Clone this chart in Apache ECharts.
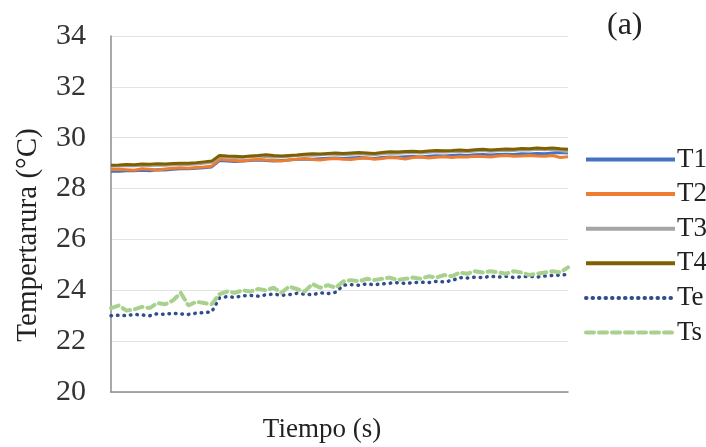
<!DOCTYPE html>
<html>
<head>
<meta charset="utf-8">
<script src="https://cdn.jsdelivr.net/npm/echarts@6/dist/echarts.min.js"></script>
<style>
  html, body { margin: 0; padding: 0; background: #fff; }
  #chart { width: 706px; height: 447px; }
</style>
</head>
<body>
<div id="chart"></div>
<script>
// Temperature readings per sample (°C)
const samples = Array.from({ length: 60 }, (_, i) => String(i + 1));

const t1 = [28.68, 28.68, 28.7, 28.7, 28.72, 28.7, 28.74, 28.73, 28.76, 28.78, 28.78, 28.8, 28.82, 28.85,
  29.1, 29.08, 29.06, 29.08, 29.1, 29.12, 29.1, 29.08, 29.1, 29.12, 29.15, 29.16, 29.15, 29.17, 29.19, 29.2,
  29.18, 29.2, 29.22, 29.2, 29.18, 29.22, 29.24, 29.23, 29.25, 29.26, 29.24, 29.27, 29.29, 29.28, 29.3,
  29.32, 29.3, 29.33, 29.34, 29.32, 29.34, 29.35, 29.34, 29.37, 29.36, 29.38, 29.37, 29.4, 29.42, 29.4];

const t2 = [28.75, 28.76, 28.74, 28.72, 28.78, 28.76, 28.73, 28.77, 28.8, 28.82, 28.8, 28.83, 28.85, 28.88,
  29.15, 29.12, 29.1, 29.08, 29.12, 29.15, 29.12, 29.1, 29.08, 29.13, 29.15, 29.18, 29.14, 29.12, 29.16, 29.18,
  29.15, 29.14, 29.18, 29.2, 29.15, 29.18, 29.22, 29.2, 29.16, 29.22, 29.24, 29.2, 29.23, 29.25, 29.22,
  29.25, 29.24, 29.27, 29.26, 29.24, 29.28, 29.3, 29.27, 29.28, 29.3, 29.28, 29.27, 29.3, 29.22, 29.25];

const t3 = [28.88, 28.89, 28.9, 28.9, 28.92, 28.91, 28.93, 28.92, 28.94, 28.95, 28.95, 28.97, 29.0, 29.03,
  29.25, 29.23, 29.22, 29.23, 29.25, 29.28, 29.25, 29.23, 29.25, 29.27, 29.3, 29.32, 29.31, 29.33, 29.35, 29.35,
  29.33, 29.35, 29.37, 29.35, 29.33, 29.37, 29.4, 29.39, 29.41, 29.42, 29.4, 29.43, 29.45, 29.44, 29.45,
  29.47, 29.45, 29.48, 29.5, 29.47, 29.49, 29.51, 29.5, 29.53, 29.52, 29.55, 29.53, 29.55, 29.5, 29.45];

const t4 = [28.92, 28.93, 28.95, 28.94, 28.97, 28.96, 28.98, 28.97, 28.99, 29.0, 29.0, 29.02, 29.05, 29.08,
  29.3, 29.28, 29.27, 29.25, 29.28, 29.3, 29.33, 29.3, 29.28, 29.3, 29.32, 29.35, 29.37, 29.36, 29.38, 29.4,
  29.38, 29.4, 29.42, 29.4, 29.38, 29.42, 29.45, 29.44, 29.46, 29.47, 29.45, 29.48, 29.5, 29.49, 29.5,
  29.52, 29.5, 29.53, 29.55, 29.52, 29.54, 29.56, 29.55, 29.58, 29.57, 29.6, 29.58, 29.6, 29.57, 29.55];

const te = [23.0, 23.02, 23.0, 23.05, 23.03, 23.0, 23.08, 23.05, 23.1, 23.07, 23.05, 23.1, 23.12, 23.15,
  23.7, 23.75, 23.72, 23.78, 23.8, 23.77, 23.82, 23.85, 23.8, 23.83, 23.88, 23.85, 23.82, 23.9, 23.87, 23.92,
  24.2, 24.22, 24.2, 24.25, 24.22, 24.25, 24.28, 24.3, 24.27, 24.3, 24.32, 24.3, 24.35, 24.33, 24.38,
  24.5, 24.48, 24.52, 24.5, 24.55, 24.52, 24.55, 24.5, 24.53, 24.55, 24.52, 24.56, 24.58, 24.6, 24.62];

const ts = [23.3, 23.4, 23.2, 23.25, 23.35, 23.3, 23.5, 23.45, 23.6, 23.9, 23.4, 23.55, 23.5, 23.45,
  23.85, 23.95, 23.9, 24.0, 23.95, 24.05, 24.0, 24.1, 23.9, 24.15, 24.05, 23.95, 24.25, 24.1, 24.2, 24.1,
  24.35, 24.4, 24.35, 24.45, 24.4, 24.45, 24.5, 24.4, 24.45, 24.5, 24.45, 24.55, 24.5, 24.6, 24.55,
  24.7, 24.65, 24.75, 24.7, 24.75, 24.7, 24.65, 24.75, 24.7, 24.6, 24.65, 24.7, 24.75, 24.7, 24.9];

const yTicks = { min: 20, max: 34, interval: 2 };

const serif = '"Liberation Serif", "DejaVu Serif", serif';

function lineSeries(name, data, color, type, width, cap) {
  return {
    name, type: 'line', data,
    symbol: 'none', smooth: false,
    lineStyle: { color, width, type, cap: cap || 'butt' },
    itemStyle: { color },
    emphasis: { disabled: true },
    animation: false
  };
}

const chart = echarts.init(document.getElementById('chart'), null, { renderer: 'canvas' });
chart.setOption({
  backgroundColor: '#ffffff',
  animation: false,
  grid: { left: 111, top: 36, right: 138, bottom: 55, containLabel: false },
  xAxis: {
    type: 'category', data: samples, boundaryGap: false,
    axisLine: { lineStyle: { color: '#8c8c8c', width: 1.5 } },
    axisTick: { show: false }, axisLabel: { show: false }, splitLine: { show: false }
  },
  yAxis: {
    type: 'value', min: yTicks.min, max: yTicks.max, interval: yTicks.interval,
    axisLine: { show: true, lineStyle: { color: '#8c8c8c', width: 1.5 } },
    axisTick: { show: false },
    axisLabel: { fontFamily: serif, fontSize: 30, color: '#333', margin: 25 },
    splitLine: { lineStyle: { color: '#e3e3e3', width: 1 } }
  },
  legend: {
    orient: 'vertical', left: 579, top: 141,
    itemWidth: 89, itemHeight: 20, itemGap: 7.6,
    itemStyle: { opacity: 0 },
    lineStyle: { width: 4 },
    textStyle: { fontFamily: serif, fontSize: 27, lineHeight: 20, color: '#222', padding: [0, 0, 0, -3] },
    data: ['T1', 'T2', 'T3', 'T4', 'Te', 'Ts']
  },
  graphic: [
    {
      type: 'text', left: 607, top: 10,
      style: { text: '(a)', font: '32px ' + serif, fill: '#222' }
    },
    {
      // axis titles
      type: 'text', x: 322, y: 430,
      style: { text: 'Tiempo (s)', font: '27px ' + serif, fill: '#222', align: 'center', verticalAlign: 'middle' }
    },
    {
      type: 'text', x: 28, y: 235, rotation: Math.PI / 2,
      style: { text: 'Tempertarura (°C)', font: '29px ' + serif, fill: '#222', align: 'center', verticalAlign: 'middle' }
    }
  ],
  series: [
    lineSeries('T1', t1, '#4472C4', 'solid', 3),
    lineSeries('T2', t2, '#ED7D31', 'solid', 3),
    lineSeries('T3', t3, '#A5A5A5', 'solid', 3),
    lineSeries('T4', t4, '#7F6000', 'solid', 3),
    lineSeries('Te', te, '#2F4D8A', [0.5, 6], 3.5, 'round'),
    lineSeries('Ts', ts, '#A9D18E', [8, 5], 4, 'round')
  ]
});
</script>
</body>
</html>
